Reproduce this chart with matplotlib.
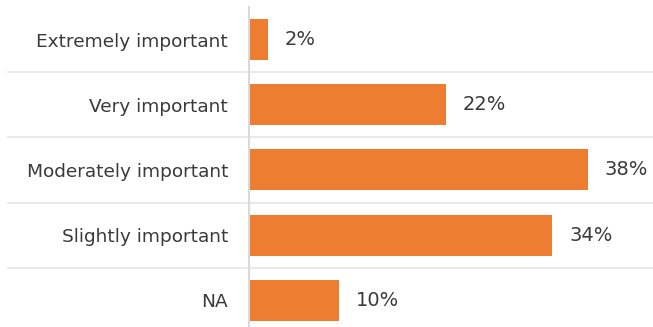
import matplotlib.pyplot as plt

categories = ['Extremely important', 'Very important', 'Moderately important',
              'Slightly important', 'NA']
percentages = [2, 22, 38, 34, 10]

bar_color = '#ED7D31'
text_color = '#3a3a3a'
line_color = '#d9d9d9'

fig = plt.figure(figsize=(6.53, 3.27), dpi=100)
# axes spans from the y-axis line to the right edge, running off the bottom
ax = fig.add_axes([249 / 653, 0, 404 / 653, 320 / 327])

y = range(len(categories))
ax.barh(y, percentages, height=0.63, color=bar_color, left=0.1)

for yi, v in zip(y, percentages):
    ax.annotate(f'{v}%', (v + 0.1, yi), xytext=(12, 0), textcoords='offset points',
                va='center', ha='left', fontsize=14, color=text_color)

ax.set_xlim(0, 45.4)
ax.set_ylim(4.41, -0.5)
ax.set_yticks(list(y))
ax.set_yticklabels(categories, fontsize=13.3, color=text_color)
ax.tick_params(axis='y', length=0, pad=15)
ax.set_xticks([])

for s in ['top', 'right', 'bottom']:
    ax.spines[s].set_visible(False)
ax.spines['left'].set_color(line_color)
ax.spines['left'].set_linewidth(1.5)

# light separators between categories, reaching into the label column
trans = ax.get_yaxis_transform()
for b in [0.5, 1.5, 2.5, 3.5]:
    ax.plot([-241 / 404, 1], [b, b], transform=trans, color='#e6e6e6',
            lw=1.2, clip_on=False, zorder=0)

fig.savefig('out.png', dpi=100)
